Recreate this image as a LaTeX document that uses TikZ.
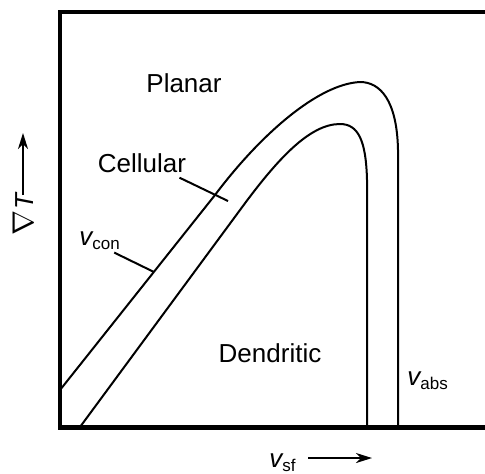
\documentclass[tikz,border=0pt]{standalone}
\usepackage{fontspec}
\setmainfont{Liberation Sans}
\usetikzlibrary{arrows.meta}

\tikzset{
    frame/.style = {line width=2.2pt},
    boundary/.style = {line width=1pt},
    leader/.style = {line width=1pt},
    regionlabel/.style = {font=\fontsize{13}{15}\selectfont, inner sep=0pt, anchor=base},
    speedlabel/.style = {inner sep=0pt, anchor=base west},
    axisarrow/.style = {line width=1pt, -{Stealth[length=8pt,width=5pt,inset=2.5pt]}}
}
\newcommand{\speed}[1]{{\fontsize{13}{15}\selectfont\itshape v}\raisebox{-2pt}{\fontsize{8.5}{10}\selectfont #1}}

\begin{document}
\begin{tikzpicture}[x=0.5pt, y=-0.5pt]
    \useasboundingbox (0,0) rectangle (485,473);
    % frame, open on the right
    \draw[frame] (485,12) -- (60,12) -- (60,427.5) -- (485,427.5);

    % limits of the cellular band
    \draw[boundary] (60,390) -- (215,195)
        .. controls (260,135) and (318,84) .. (360,82)
        .. controls (380,82) and (397,100) .. (398,150) -- (398,427);
    \draw[boundary] (80,427) -- (240,210)
        .. controls (278,158) and (310,124) .. (340,124)
        .. controls (358,124) and (366,140) .. (367,180) -- (367,427);

    % regions
    \node[regionlabel] (planar) at (184,92) {Planar};
    \node[regionlabel] (cell) at (142,172) {Cellular};
    \node[regionlabel] (dend) at (270,362) {Dendritic};

    % speeds
    \node[speedlabel] (vcon) at (79,245) {\speed{con}};
    \node[speedlabel] (vabs) at (407,385) {\speed{abs}};
    \node[speedlabel] (vsf) at (269,467) {\speed{sf}};

    \coordinate (cellend) at (228,201);
    \coordinate (vconend) at (154,272);
    \draw[leader] ([shift={(-7,5)}]cell.south east) -- (cellend);
    \draw[leader] ([shift={(-6,3)}]vcon.south east) -- (vconend);

    % axes
    \node[rotate=90, inner sep=0pt, anchor=base, font=\fontsize{13}{15}\selectfont] (grad) at (33,214) {\scalebox{1.25}{$\nabla$}\kern0.5pt\textit{T}};
    \coordinate (gradfrom) at (23,195);
    \coordinate (gradto) at (23,133);
    \draw[axisarrow] (gradfrom) -- (gradto);
    \coordinate (sffrom) at (308,458);
    \coordinate (sfto) at (372,458);
    \draw[axisarrow] (sffrom) -- (sfto);
\end{tikzpicture}
\end{document}
